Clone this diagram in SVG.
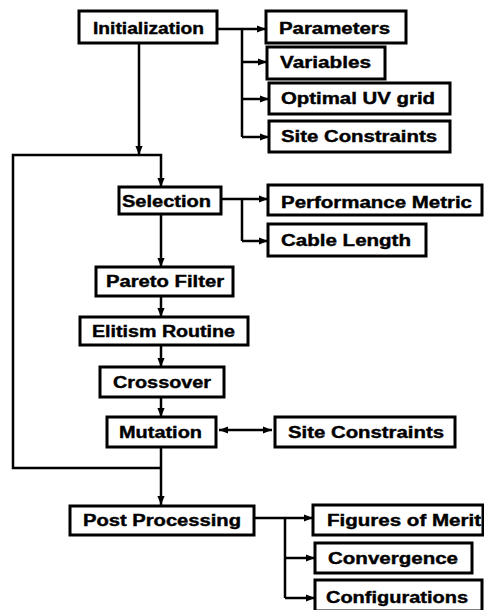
<svg xmlns="http://www.w3.org/2000/svg" width="484" height="610" viewBox="0 0 484 610">
<style>
.box{fill:#fff;stroke:#000;stroke-width:3}
.lbl{font-family:"Liberation Sans",Arial,sans-serif;font-weight:bold;font-size:16px;fill:#000;stroke:#000;stroke-width:0.4}
.ln{fill:none;stroke:#000;stroke-width:2.5;stroke-linejoin:round}
.ar{fill:none;stroke:#000;stroke-width:2.5;marker-end:url(#ah)}
</style>
<defs>
<marker id="ah" viewBox="0 0 10 8" refX="10" refY="4" markerWidth="9" markerHeight="7.5" markerUnits="userSpaceOnUse" orient="auto">
<path d="M0,0 L10,4 L0,8 z" fill="#000"/>
</marker>
<marker id="ahs" viewBox="0 0 10 8" refX="0" refY="4" markerWidth="9" markerHeight="7.5" markerUnits="userSpaceOnUse" orient="auto">
<path d="M10,0 L0,4 L10,8 z" fill="#000"/>
</marker>
</defs>
<rect width="484" height="610" fill="#fff"/>
<g id="connectors">
<path class="ln" d="M217,29 H242 V137"/>
<path class="ar" d="M242,29 H266"/>
<path class="ar" d="M242,62 H267"/>
<path class="ar" d="M242,99 H269"/>
<path class="ar" d="M242,137 H269"/>
<path class="ar" d="M139,43 V155"/>
<path class="ar" d="M161,468 H13 V155 H161 V187"/>
<path class="ln" d="M221,199 H242 V241"/>
<path class="ar" d="M242,199 H268"/>
<path class="ar" d="M242,241 H268"/>
<path class="ar" d="M161,214 V267"/>
<path class="ar" d="M161,296 V317"/>
<path class="ar" d="M161,345 V367"/>
<path class="ar" d="M161,397 V417"/>
<path class="ar" d="M219,430 H272" marker-start="url(#ahs)"/>
<path class="ar" d="M161,447 V505"/>
<path class="ln" d="M254,518 H285 V598"/>
<path class="ar" d="M285,518 H313"/>
<path class="ar" d="M285,558 H315"/>
<path class="ar" d="M285,598 H315"/>
</g>
<g id="initialization"><rect class="box" x="79" y="11" width="138" height="32"/><text class="lbl" x="93" y="34" textLength="111" lengthAdjust="spacingAndGlyphs">Initialization</text></g>
<g id="parameters"><rect class="box" x="266" y="11" width="140" height="32"/><text class="lbl" x="279" y="34" textLength="111" lengthAdjust="spacingAndGlyphs">Parameters</text></g>
<g id="variables"><rect class="box" x="267" y="47" width="118" height="32"/><text class="lbl" x="280" y="68" textLength="91" lengthAdjust="spacingAndGlyphs">Variables</text></g>
<g id="uvgrid"><rect class="box" x="269" y="83" width="181" height="31"/><text class="lbl" x="281" y="104" textLength="154" lengthAdjust="spacingAndGlyphs">Optimal UV grid</text></g>
<g id="site1"><rect class="box" x="269" y="121" width="181" height="31"/><text class="lbl" x="281" y="142" textLength="156" lengthAdjust="spacingAndGlyphs">Site Constraints</text></g>
<g id="selection"><rect class="box" x="119" y="187" width="102" height="27"/><text class="lbl" x="122" y="207" textLength="89" lengthAdjust="spacingAndGlyphs">Selection</text></g>
<g id="performance"><rect class="box" x="268" y="185" width="214" height="30"/><text class="lbl" x="281" y="208" textLength="191" lengthAdjust="spacingAndGlyphs">Performance Metric</text></g>
<g id="cable"><rect class="box" x="268" y="224" width="158" height="32"/><text class="lbl" x="281" y="246" textLength="130" lengthAdjust="spacingAndGlyphs">Cable Length</text></g>
<g id="pareto"><rect class="box" x="96" y="267" width="137" height="29"/><text class="lbl" x="106" y="287" textLength="118" lengthAdjust="spacingAndGlyphs">Pareto Filter</text></g>
<g id="elitism"><rect class="box" x="80" y="317" width="168" height="28"/><text class="lbl" x="92" y="337" textLength="143" lengthAdjust="spacingAndGlyphs">Elitism Routine</text></g>
<g id="crossover"><rect class="box" x="100" y="367" width="124" height="30"/><text class="lbl" x="113" y="388" textLength="98" lengthAdjust="spacingAndGlyphs">Crossover</text></g>
<g id="mutation"><rect class="box" x="107" y="417" width="109" height="30"/><text class="lbl" x="119" y="438" textLength="83" lengthAdjust="spacingAndGlyphs">Mutation</text></g>
<g id="site2"><rect class="box" x="275" y="417" width="180" height="30"/><text class="lbl" x="288" y="438" textLength="156" lengthAdjust="spacingAndGlyphs">Site Constraints</text></g>
<g id="post"><rect class="box" x="70" y="506" width="184" height="29"/><text class="lbl" x="83" y="526" textLength="158" lengthAdjust="spacingAndGlyphs">Post Processing</text></g>
<g id="figures"><rect class="box" x="313" y="505" width="170" height="30"/><text class="lbl" x="327" y="526" textLength="154" lengthAdjust="spacingAndGlyphs">Figures of Merit</text></g>
<g id="convergence"><rect class="box" x="315" y="543" width="157" height="30"/><text class="lbl" x="328" y="564" textLength="130" lengthAdjust="spacingAndGlyphs">Convergence</text></g>
<g id="configurations"><rect class="box" x="315" y="580" width="167" height="31"/><text class="lbl" x="326" y="603" textLength="142" lengthAdjust="spacingAndGlyphs">Configurations</text></g>
</svg>
